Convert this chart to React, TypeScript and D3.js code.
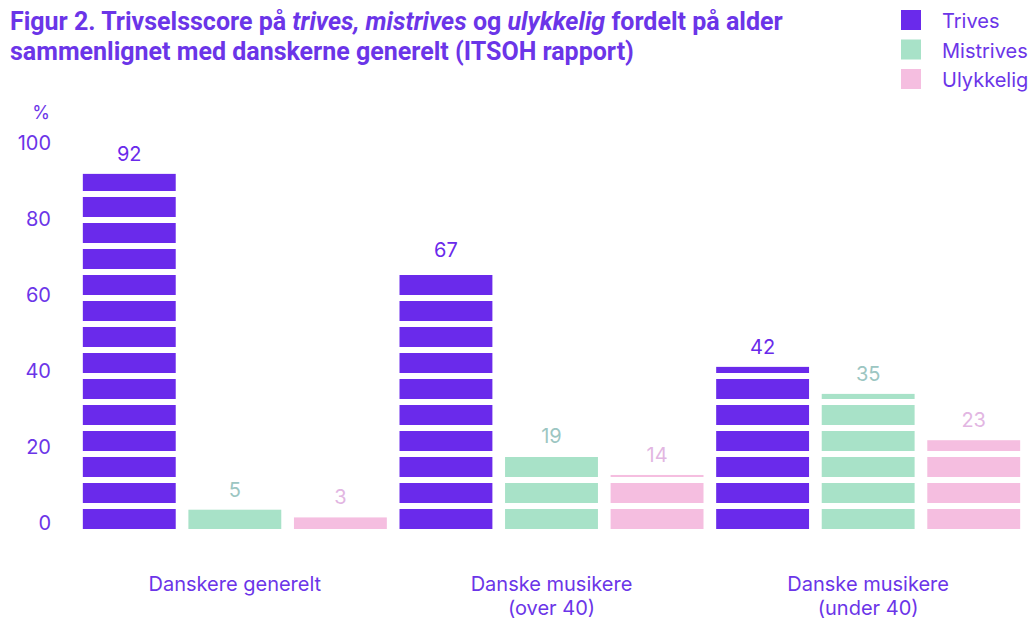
import React from 'react';
import * as d3 from 'd3';

const categories = ['Danskere generelt', 'Danske musikere\n(over 40)', 'Danske musikere\n(under 40)'];
const series = ['Trives', 'Mistrives', 'Ulykkelig'];
const trives = [92, 67, 42];
const mistrives = [5, 19, 35];
const ulykkelig = [3, 14, 23];
const yTicks = [0, 20, 40, 60, 80, 100];

const barColors = ['#6a2aeb', '#a8e2c8', '#f5bee0'];
const valueColors = ['#6a2aeb', '#9cc6c2', '#e2b6e2'];
const purple = '#6b35e8';

const App: React.FC = () => {
  const width = 1032;
  const height = 620;
  const values = [trives, mistrives, ulykkelig];

  const x0 = d3.scaleBand<number>()
    .domain(d3.range(categories.length))
    .range([76.5, 1026.5])
    .padding(0);

  const x1 = d3.scaleBand<number>()
    .domain(d3.range(series.length))
    .range([0, x0.bandwidth()])
    .paddingInner(0.12)
    .paddingOuter(0.06);

  const y = d3.scaleLinear().domain([0, 100]).range([529, 143]);
  // tick labels sit a little above the bar baseline
  const yLabel = d3.scaleLinear().domain([0, 100]).range([523, 143]);

  // bars are drawn as a stack of 20px blocks with 6px white gaps
  const blockH = 20;
  const pitch = 26;
  const blocks = (v: number) => {
    const top = y(v);
    const out: { y: number; h: number }[] = [];
    for (let b = y(0); b > top; b -= pitch) {
      const t = Math.max(b - blockH, top);
      if (b - t > 0) out.push({ y: t, h: b - t });
    }
    return out;
  };

  const font = 'Inter, "Open Sans", sans-serif';

  return (
    <svg width={width} height={height} style={{ position: 'absolute', left: 0, top: 0 }}>
      {/* title */}
      <text x={10} y={30} fill={purple} fontFamily='Roboto, sans-serif' fontWeight={700} fontSize={25}>
        <tspan>Figur 2. Trivselsscore på </tspan>
        <tspan fontStyle="italic">trives, mistrives</tspan>
        <tspan> og </tspan>
        <tspan fontStyle="italic">ulykkelig</tspan>
        <tspan> fordelt på alder</tspan>
      </text>
      <text x={10} y={60} fill={purple} fontFamily='Roboto, sans-serif' fontWeight={700} fontSize={25}>
        sammenlignet med danskerne generelt (ITSOH rapport)
      </text>

      {/* legend */}
      {series.map((s, i) => (
        <g key={s} transform={`translate(901,${10 + i * 29.5})`}>
          <rect width={20} height={20} fill={barColors[i]} />
          <text x={41} y={11} dy="0.35em" fill={purple} fontFamily={font} fontSize={20}>{s}</text>
        </g>
      ))}

      {/* y axis labels */}
      <text x={41} y={113} dy="0.35em" textAnchor="middle" fill={purple} fontFamily={font} fontSize={18}>%</text>
      {yTicks.map(t => (
        <text key={t} x={51} y={yLabel(t)} dy="0.35em" textAnchor="end" fill={purple} fontFamily={font} fontSize={20}>{t}</text>
      ))}

      {/* bars */}
      {categories.map((c, ci) => (
        <g key={c} transform={`translate(${x0(ci)},0)`}>
          {series.map((s, si) => {
            const v = values[si][ci];
            const bx = x1(si)!;
            return (
              <g key={s}>
                {blocks(v).map((b, k) => (
                  <rect key={k} x={bx} y={b.y} width={x1.bandwidth()} height={b.h} fill={barColors[si]} />
                ))}
                <text x={bx + x1.bandwidth() / 2} y={y(v) - 20} dy="0.35em" textAnchor="middle"
                  fill={valueColors[si]} fontFamily={font} fontSize={20}>{v}</text>
              </g>
            );
          })}
          {c.split('\n').map((line, li) => (
            <text key={li} x={x0.bandwidth() / 2} y={584 + li * 24} dy="0.35em" textAnchor="middle"
              fill={purple} fontFamily={font} fontSize={20}>{line}</text>
          ))}
        </g>
      ))}
    </svg>
  );
};

export default App;
